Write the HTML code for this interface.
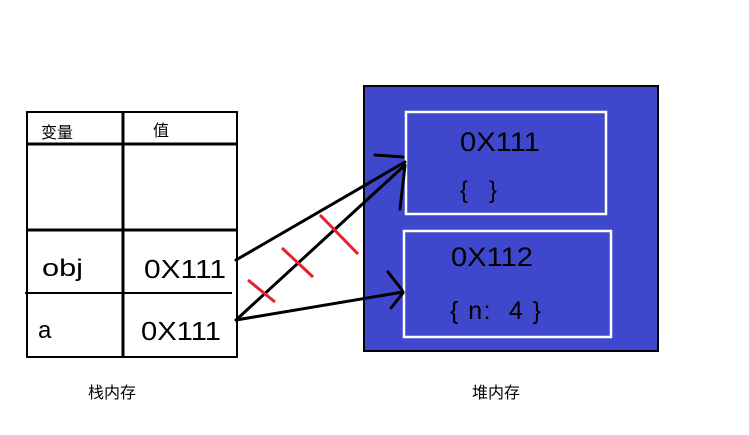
<!DOCTYPE html>
<html><head><style>
body{margin:0;background:#fff;width:749px;height:435px;overflow:hidden}
svg{display:block}
text{font-family:"Liberation Sans","Noto Sans CJK SC",sans-serif}
</style></head><body>
<svg width="749" height="435" viewBox="0 0 749 435">
<rect x="27" y="112" width="210" height="245" fill="none" stroke="#000" stroke-width="2"/>
<line x1="123" y1="112" x2="123" y2="357" stroke="#000" stroke-width="3"/>
<line x1="27" y1="144" x2="237" y2="144" stroke="#000" stroke-width="3"/>
<line x1="27" y1="230" x2="237" y2="230" stroke="#000" stroke-width="3"/>
<line x1="25" y1="293" x2="232" y2="293" stroke="#000" stroke-width="2"/>
<text x="41" y="138" font-size="16">变量</text>
<text x="153" y="136" font-size="16">值</text>
<text x="42" y="276" font-size="24" textLength="41" lengthAdjust="spacingAndGlyphs">obj</text>
<text x="144" y="278" font-size="26" textLength="82" lengthAdjust="spacingAndGlyphs">0X111</text>
<text x="38" y="338" font-size="24">a</text>
<text x="141" y="340" font-size="26" textLength="80" lengthAdjust="spacingAndGlyphs">0X111</text>
<text x="88" y="398" font-size="16">栈内存</text>
<rect x="364" y="86" width="294" height="265" fill="#3f48cc" stroke="#000" stroke-width="2"/>
<rect x="406" y="112" width="200" height="102" fill="none" stroke="#fff" stroke-width="2.5"/>
<rect x="404" y="231" width="207" height="106" fill="none" stroke="#fff" stroke-width="2.5"/>
<text x="460" y="151" font-size="27" fill="#000" textLength="80" lengthAdjust="spacingAndGlyphs">0X111</text>
<text x="460" y="198" font-size="24" fill="#000" xml:space="preserve">{</text>
<text x="489" y="198" font-size="24" fill="#000">}</text>
<text x="451" y="266" font-size="27" fill="#000" textLength="82" lengthAdjust="spacingAndGlyphs">0X112</text>
<text x="450" y="319" font-size="25" fill="#000" textLength="91" lengthAdjust="spacing" xml:space="preserve">{ n:  4 }</text>
<text x="472" y="398" font-size="16">堆内存</text>
<g stroke="#000" stroke-width="3" fill="none" stroke-linecap="round">
<line x1="236" y1="260" x2="405" y2="162"/>
<line x1="236" y1="320" x2="405" y2="165"/>
<line x1="236" y1="320" x2="403" y2="292"/>
<line x1="375" y1="155" x2="403" y2="157"/>
<line x1="400" y1="209" x2="405" y2="166"/>
<line x1="388" y1="272" x2="402" y2="290"/>
<line x1="391" y1="308" x2="403" y2="293"/>
</g>
<g stroke="#e8202a" stroke-width="3">
<line x1="248" y1="280" x2="275" y2="302"/>
<line x1="282" y1="248" x2="313" y2="277"/>
<line x1="320" y1="215" x2="358" y2="254"/>
</g>
</svg>
</body></html>
